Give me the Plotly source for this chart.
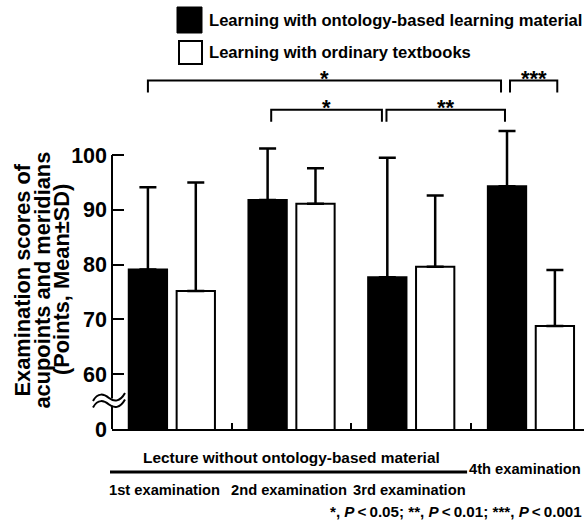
import plotly.graph_objects as go

# ---------------- data ----------------
categories = ["1st examination", "2nd examination", "3rd examination", "4th examination"]
series_names = ["Learning with ontology-based learning material",
                "Learning with ordinary textbooks"]
ontology_mean = [79.1, 91.8, 77.7, 94.3]
ontology_sd = [15.0, 9.4, 21.8, 10.1]
textbook_mean = [75.2, 91.1, 79.6, 68.8]
textbook_sd = [19.8, 6.5, 13.0, 10.2]
ytick_vals = [50, 60, 70, 80, 90, 100]          # 50 stands for the broken-axis "0"
ytick_text = ["0", "60", "70", "80", "90", "100"]
phase_label = "Lecture without ontology-based material"
lecture_groups = [0, 1, 2]
pnote = "*, <i>P</i>\u2009&lt;\u20090.05; **, <i>P</i>\u2009&lt;\u20090.01; ***, <i>P</i>\u2009&lt;\u20090.001"
# comparisons: (group, series) -> (group, series), label, level
comparisons = [
    ((0, 0), (3, 0), "*", 2),
    ((1, 0), (2, 0), "*", 1),
    ((2, 0), (3, 0), "**", 1),
    ((3, 0), (3, 1), "***", 2),
]

# ---------------- layout constants ----------------
W, H = 584, 524
ML, MR, MT, MB = 112, 0, 0, 95
PW, PH = W - ML - MR, H - MT - MB
XMIN = -0.5
XMAX = XMIN + PW / 119.7
YMIN = 50
YMAX = YMIN + PH / 5.48
FONT = "Liberation Sans, Arial, Helvetica, sans-serif"
SLOT = 0.4

def px_x(px):
    return (px - ML) / PW

def px_y(py):
    return (MT + PH - py) / PH

def dx_paper(x):
    return (x - XMIN) / (XMAX - XMIN)

def py_data(py):
    return YMIN + (MT + PH - py) * (YMAX - YMIN) / PH

xs = list(range(len(categories)))

fig = go.Figure()
for name, mean, sd, fill in [(series_names[0], ontology_mean, ontology_sd, "black"),
                             (series_names[1], textbook_mean, textbook_sd, "white")]:
    fig.add_trace(go.Bar(
        x=xs, y=mean, name=name, showlegend=False,
        marker=dict(color=fill, line=dict(color="black", width=2)),
        error_y=dict(type="data", array=sd, arrayminus=[0] * len(sd), symmetric=False,
                     color="black", thickness=2.5, width=8.5),
    ))

shapes = []
annotations = []

# y axis line (0..100 section)
shapes.append(dict(type="line", xref="paper", yref="y", x0=0, x1=0, y0=YMIN, y1=100,
                   line=dict(color="black", width=2)))
# axis break
shapes.append(dict(type="rect", xref="paper", yref="paper",
                   x0=px_x(109), x1=px_x(115), y0=px_y(405.5), y1=px_y(398.5),
                   fillcolor="white", line=dict(width=0)))
def wave(dy):
    pts = [(93, 401 + dy), (98, 392 + dy), (104, 394 + dy), (109, 398 + dy),
           (114, 402 + dy), (120, 402 + dy), (125, 393 + dy)]
    p = [(px_x(a), px_y(b)) for a, b in pts]
    s = "M %f,%f C %f,%f %f,%f %f,%f C %f,%f %f,%f %f,%f" % (
        p[0] + p[1] + p[2] + p[3] + p[4] + p[5] + p[6])
    return s
for dy in (0, 6.5):
    shapes.append(dict(type="path", xref="paper", yref="paper", path=wave(dy),
                       line=dict(color="black", width=2)))

# significance brackets
level_top = {2: py_data(80.5), 1: py_data(109.7)}
leg = 12 * (YMAX - YMIN) / PH
nudges = {0: (0.0, -0.05), 1: (0.03, -0.045), 2: (-0.007, -0.017), 3: (0.025, 0.02)}
def bar_center(g, s):
    return g + (s - 0.5) * SLOT
for i, (a, b, lab, lev) in enumerate(comparisons):
    x0 = bar_center(*a) + nudges[i][0]
    x1 = bar_center(*b) + nudges[i][1]
    top = level_top[lev]
    shapes.append(dict(type="path", xref="x", yref="y",
                       path="M %f,%f L %f,%f L %f,%f L %f,%f" % (x0, top - leg, x0, top, x1, top, x1, top - leg),
                       line=dict(color="black", width=2)))
    annotations.append(dict(x=(x0 + x1) / 2, y=top, xref="x", yref="y", text=lab,
                            showarrow=False, xanchor="center", yanchor="middle", yshift=2,
                            font=dict(family=FONT, size=22, color="black", weight="bold")))

# legend (drawn)
shapes.append(dict(type="rect", xref="paper", yref="paper", x0=px_x(177), x1=px_x(202),
                   y0=px_y(33), y1=px_y(7), fillcolor="black", line=dict(color="black", width=1)))
shapes.append(dict(type="rect", xref="paper", yref="paper", x0=px_x(179), x1=px_x(202),
                   y0=px_y(64), y1=px_y(41), fillcolor="white", line=dict(color="black", width=2)))
for name, cy in zip(series_names, (20.5, 52)):
    annotations.append(dict(x=px_x(207), y=px_y(cy), xref="paper", yref="paper", text=name,
                            showarrow=False, xanchor="left", yanchor="middle",
                            font=dict(family=FONT, size=16.6, color="black", weight="bold")))

# y-axis title (three tight lines)
for txt, cx in [("Examination scores of", 21.5),
                ("acupoints and meridians", 41.5),
                ("(Points, Mean±SD)", 61)]:
    annotations.append(dict(x=px_x(cx), y=px_y(280), xref="paper", yref="paper", text=txt,
                            textangle=-90, showarrow=False, xanchor="center", yanchor="middle",
                            font=dict(family=FONT, size=21.8, color="black", weight="bold")))

# bottom labels
shapes.append(dict(type="line", xref="paper", yref="paper",
                   x0=dx_paper(lecture_groups[0] - 0.5) - 2 / PW,
                   x1=dx_paper(lecture_groups[-1] + 0.5) - 4 / PW,
                   y0=px_y(472), y1=px_y(472), line=dict(color="black", width=3)))
annotations.append(dict(x=dx_paper((lecture_groups[0] + lecture_groups[-1]) / 2), y=px_y(457),
                        xref="paper", yref="paper", text=phase_label, showarrow=False,
                        xanchor="center", yanchor="middle",
                        font=dict(family=FONT, size=15.4, color="black", weight="bold")))
label_nudge_px = [-7, -3, -2, 0]
for i, c in enumerate(categories):
    inside = i in lecture_groups
    cy = 489.5 if inside else 469
    if inside:
        xa, xpos = "center", dx_paper(i) + label_nudge_px[i] / PW
    else:
        xa, xpos = "right", px_x(583)   # keep the last label inside the page
    annotations.append(dict(x=xpos, y=px_y(cy), xref="paper", yref="paper", text=c,
                            showarrow=False, xanchor=xa, yanchor="middle",
                            font=dict(family=FONT, size=14.7, color="black", weight="bold")))
annotations.append(dict(x=px_x(584), y=px_y(511), xref="paper", yref="paper", text=pnote,
                        showarrow=False, xanchor="right", yanchor="middle",
                        font=dict(family=FONT, size=15.2, color="black", weight="bold")))

fig.update_layout(
    width=W, height=H, autosize=False,
    margin=dict(l=ML, r=MR, t=MT, b=MB, pad=0),
    paper_bgcolor="white", plot_bgcolor="white",
    barmode="group", bargap=0.2, bargroupgap=0.2,
    showlegend=False,
    shapes=shapes, annotations=annotations,
    xaxis=dict(range=[XMIN, XMAX], showgrid=False, zeroline=False, showline=True,
               linecolor="black", linewidth=2, tickvals=[0.5, 1.5, 2.5], ticks="inside",
               ticklen=6, tickwidth=1.5, tickcolor="black", showticklabels=False, fixedrange=True),
    yaxis=dict(range=[YMIN, YMAX], showgrid=False, zeroline=False, showline=False,
               tickvals=ytick_vals, ticktext=ytick_text, ticks="inside", ticklen=12,
               tickwidth=2, tickcolor="black", ticklabelstandoff=4,
               tickfont=dict(family=FONT, size=21.5, color="black", weight="bold"), fixedrange=True),
)

fig.write_html("out.html", config={"displayModeBar": False},
               post_script="document.body.style.margin='0';document.body.style.overflow='hidden';")
